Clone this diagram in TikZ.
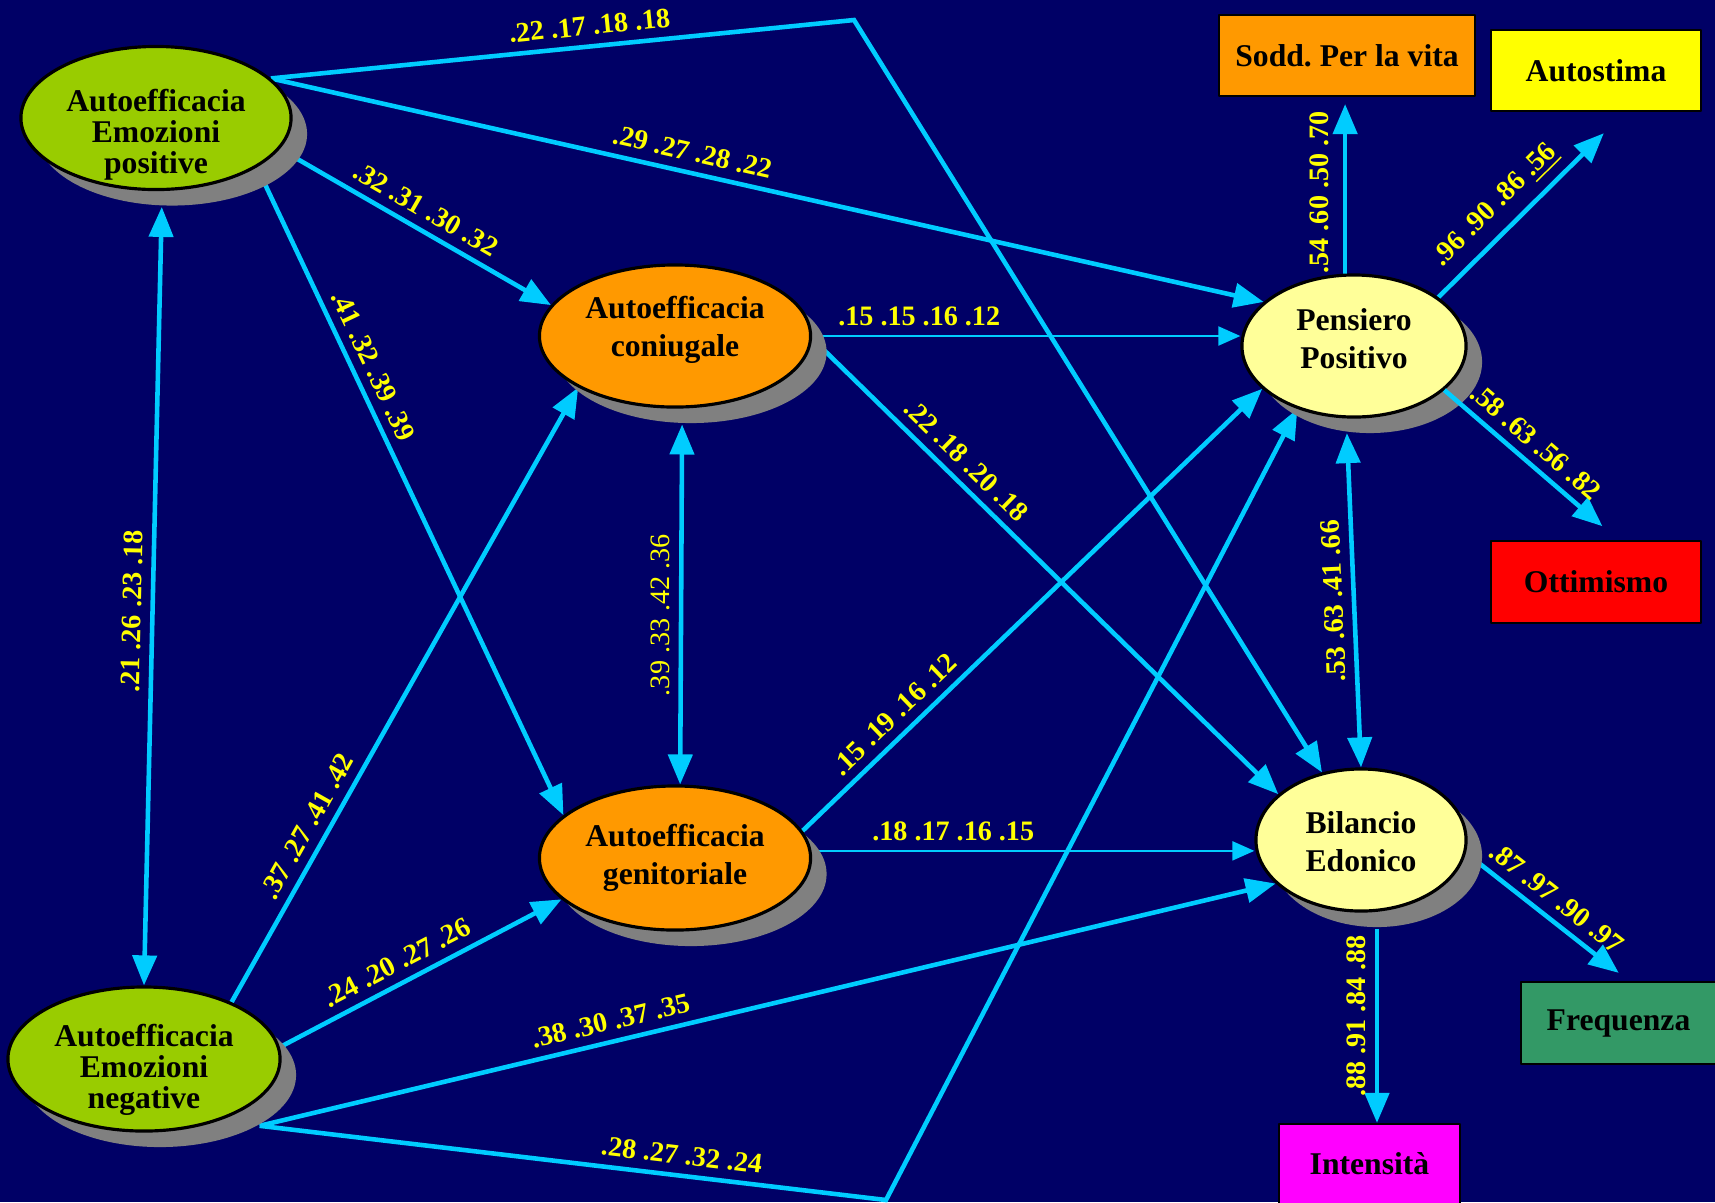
\documentclass[tikz,border=0pt]{standalone}
\usepackage{fontspec}
\setmainfont{Liberation Serif}
\usetikzlibrary{shapes.geometric,shadows,arrows.meta}
\definecolor{navy}{RGB}{0,0,102}
\definecolor{sky}{RGB}{0,204,255}
\definecolor{lime}{RGB}{153,204,0}
\definecolor{amber}{RGB}{255,153,0}
\definecolor{cream}{RGB}{255,255,153}
\definecolor{sea}{RGB}{51,153,102}
\definecolor{lemon}{RGB}{255,255,0}
\definecolor{scarlet}{RGB}{255,0,0}
\definecolor{fuchsia}{RGB}{255,0,255}
\newcommand{\nodetext}[2]{\raisebox{#1}[\height][\depth]{\begin{tabular}{@{}c@{}}#2\end{tabular}}}
\pgfdeclarelayer{bg}
\pgfsetlayers{bg,main}
\begin{document}
\begin{tikzpicture}[x=0.01cm, y=-0.01cm, >={Triangle[length=0.3cm,width=0.24cm]}, line join=round,
	latent/.style={ellipse, draw=black, line width=0.9pt, fill=#1, inner sep=0pt, font=\fontsize{9}{10.8}\selectfont\bfseries, drop shadow={shadow xshift=0.16cm, shadow yshift=-0.16cm, fill=gray, opacity=1}},
	indic/.style={draw=black, line width=0.6pt, fill=#1, inner sep=0pt, font=\fontsize{9}{10.8}\selectfont\bfseries},
	link/.style={draw=sky, line width=1.3pt, ->},
	thinlink/.style={draw=sky, line width=0.6pt, -{Triangle[length=0.22cm,width=0.19cm]}},
	coef/.style={sloped, above, text=lemon, inner sep=2.5pt, font=\fontsize{8}{8}\selectfont\bfseries}]
	\useasboundingbox (0,0) rectangle (1715,1202);
	\node[latent=lime, minimum width=2.7cm, minimum height=1.43cm, font=\fontsize{9}{8.8}\selectfont\bfseries] (ep) at (156,118) {\nodetext{-0.18cm}{Autoefficacia\\Emozioni\\positive}};
	\node[latent=lime, minimum width=2.72cm, minimum height=1.44cm, font=\fontsize{9}{8.8}\selectfont\bfseries] (en) at (144,1059) {\nodetext{-0.12cm}{Autoefficacia\\Emozioni\\negative}};
	\node[latent=amber, minimum width=2.71cm, minimum height=1.42cm] (con) at (675,336) {\nodetext{0.065cm}{Autoefficacia\\coniugale}};
	\node[latent=amber, minimum width=2.71cm, minimum height=1.44cm] (gen) at (675,858) {\nodetext{0cm}{Autoefficacia\\genitoriale}};
	\node[latent=cream, minimum width=2.24cm, minimum height=1.42cm] (pen) at (1354,346) {\nodetext{0.045cm}{Pensiero\\Positivo}};
	\node[latent=cream, minimum width=2.1cm, minimum height=1.42cm] (bil) at (1361,840) {\nodetext{-0.045cm}{Bilancio\\Edonico}};
	\node[indic=amber, minimum width=2.56cm, minimum height=0.81cm] (sodd) at (1347,55.5) {Sodd.\ Per la vita};
	\node[indic=lemon, minimum width=2.1cm, minimum height=0.81cm] (autost) at (1596,70.5) {Autostima};
	\node[indic=scarlet, minimum width=2.1cm, minimum height=0.82cm] (ott) at (1596,582) {Ottimismo};
	\node[indic=sea, minimum width=1.95cm, minimum height=0.82cm] (freq) at (1618.5,1023) {Frequenza};
	\node[indic=fuchsia, minimum width=1.81cm, minimum height=0.8cm] (inten) at (1369.5,1164) {Intensità};
	\coordinate (kn) at (854,20);
	\coordinate (ks) at (886,1200);
	\coordinate (bilfoot) at ([shift={(16,16)}]bil.south);
	\coordinate (enfoot) at ([shift={(16,16)}]en.-27);
	\begin{pgfonlayer}{bg}
		\fill[navy] (0,0) rectangle (1715,1202);
		\draw[link] (ep.19) -- node[coef, pos=.55]{.22 .17 .18 .18} (kn) -- (bil.120);
		\draw[link] (ep.19) -- node[coef, pos=.42]{.29 .27 .28 .22} (pen.154);
		\draw[link] (ep.-14) -- node[coef, pos=.5]{.32 .31 .30 .32} (con.166);
		\draw[link] (ep.-26) -- node[coef, pos=.32]{.41 .32 .39 .39} (gen.159);
		\draw[link, <->] ([shift={(16,16)}]ep.-98) -- node[coef, pos=.52]{.21 .26 .23 .18} (en.north);
		\draw[link] (en.33) -- node[coef, pos=.27]{.37 .27 .41 .42} (con.208);
		\draw[link] (en.5) -- node[coef, pos=.45]{.24 .20 .27 .26} (gen.200);
		\draw[link] (enfoot) -- node[coef, pos=.35]{.38 .30 .37 .35} (bil.207);
		\draw[link] (enfoot) -- node[coef, pos=.67]{.28 .27 .32 .24} (ks) -- (pen.228);
		\draw[link, <->] ([shift={(16,16)}]con.-97) -- node[coef, pos=.53, font=\fontsize{8}{8}\selectfont]{.39 .33 .42 .36} (gen.86);
		\draw[thinlink] (con.east) -- node[coef, pos=.25]{.15 .15 .16 .12} (con.east -| pen.west);
		\draw[link] (con.-1) -- node[coef, pos=.3]{.22 .18 .20 .18} (bil.151);
		\draw[link] (gen.12) -- node[coef, pos=.23]{.15 .19 .16 .12} (pen.205);
		\draw[thinlink] (gen.3) -- node[coef, pos=.32]{.18 .17 .16 .15} (gen.3 -| bil.west);
		\draw[link, shorten >=0.07cm] (pen.97) -- node[coef, pos=.46, inner sep=4pt]{.54 .60 .50 .70} (pen.97 |- sodd.south);
		\draw[link, shorten >=0.3cm] (pen.30) -- node[coef, pos=.4]{.96 .90 .86 \underline{.56}} (autost.-55);
		\draw[link, shorten >=0.13cm] (bil.-7) -- node[coef, pos=.48]{.87 .97 .90 .97} (freq.76);
		\draw[link, <-] (bilfoot |- inten.north) -- node[coef, pos=.55]{.88 .91 .84 .88} (bilfoot);
		\draw[link, <->] (bil.north) -- node[coef, pos=.5, allow upside down]{.53 .63 .41 .66} ([shift={(16,16)}]pen.-108);
	\end{pgfonlayer}
	\draw[link, shorten >=0.21cm] (pen.-26) -- node[coef, pos=.45]{.58 .63 .56 .82} (ott.62);
\end{tikzpicture}
\end{document}
